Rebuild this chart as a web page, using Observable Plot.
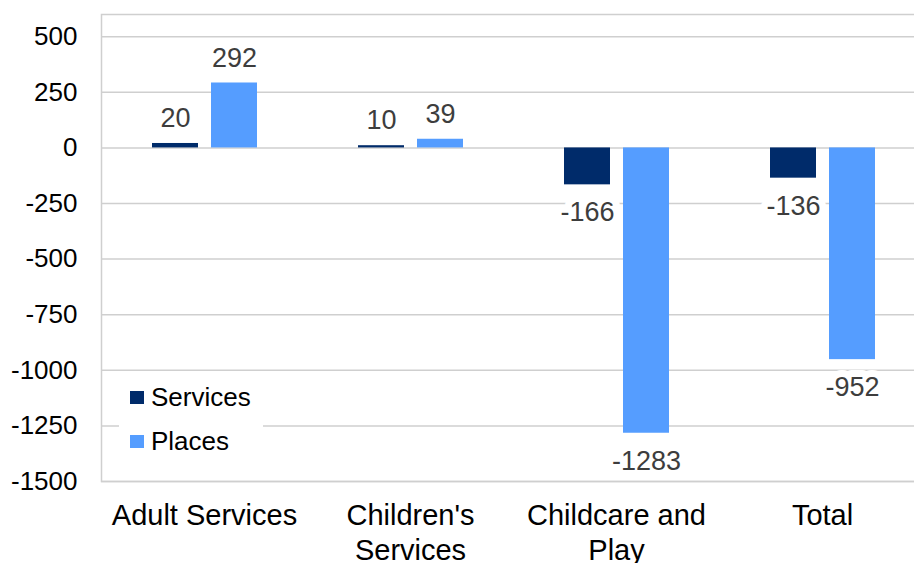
<!DOCTYPE html>
<html><head><meta charset="utf-8">
<script src="https://cdn.jsdelivr.net/npm/d3@7"></script>
<script src="https://cdn.jsdelivr.net/npm/@observablehq/plot@0.6"></script>
<style>
body{margin:0;background:#fff;overflow:hidden;font-family:"Liberation Sans",Arial,sans-serif}
#wrap{position:relative;width:914px;height:563px;overflow:hidden}
#legend{position:absolute;left:119px;top:378px;width:144px;height:80px;background:#fff}
.sw{position:absolute;left:11px;width:14px;height:13px}
.lt{position:absolute;left:32px;font-size:26px;color:#000;line-height:1;white-space:nowrap}
</style></head><body><div id="wrap"></div>
<script>
const categories = ["Adult Services", "Children's\nServices", "Childcare and\nPlay", "Total"];
const servicesValues = [20, 10, -166, -136];
const placesValues = [292, 39, -1283, -952];
const yTicks = [500, 250, 0, -250, -500, -750, -1000, -1250, -1500];
const seriesNames = ["Services", "Places"];
const seriesColors = ["#002b6a", "#559dff"];

const rows = [];
categories.forEach((c, i) => {
  rows.push({category: c, series: "Services", value: servicesValues[i]});
  rows.push({category: c, series: "Places", value: placesValues[i]});
});
const svc = rows.filter(d => d.series === "Services");
const plc = rows.filter(d => d.series === "Places");

const labelOpts = (data, dx, dy) => Plot.text(data, {
  x: "category", y: "value", text: d => String(d.value), dx, dy,
  fontSize: 27, fill: "#3d3d3d", stroke: "white", strokeWidth: 14, paintOrder: "stroke"
});

const chart = Plot.plot({
  width: 914, height: 563,
  marginLeft: 101, marginRight: -11, marginTop: 14, marginBottom: 82,
  style: {fontFamily: "Liberation Sans, Arial, sans-serif", background: "white"},
  x: {domain: categories, padding: 0},
  y: {domain: [-1500, 600]},
  marks: [
    Plot.ruleY(yTicks, {stroke: "#cfcfcf", strokeWidth: 1.5}),
    Plot.frame({stroke: "#cfcfcf", strokeWidth: 1.5}),
    labelOpts(svc.filter(d => d.value >= 0), -29, -25),
    labelOpts(svc.filter(d => d.value < 0), -29, 28),
    labelOpts(plc.filter(d => d.value >= 0), 30, -25),
    labelOpts(plc.filter(d => d.value < 0), 30, 28),
    Plot.barY(svc, {x: "category", y: "value", fill: seriesColors[0], insetLeft: 51, insetRight: 109}),
    Plot.barY(plc, {x: "category", y: "value", fill: seriesColors[1], insetLeft: 110, insetRight: 50}),
    Plot.axisY({ticks: yTicks, tickFormat: d => String(d), tickSize: 0, tickPadding: 24, fontSize: 26, fill: "#000", label: null}),
    Plot.axisX({tickSize: 0, tickPadding: 19, fontSize: 29, fill: "#000", lineHeight: 1.2, label: null})
  ]
});
const wrap = document.getElementById("wrap");
wrap.appendChild(chart);

const legend = document.createElement("div");
legend.id = "legend";
seriesNames.forEach((name, i) => {
  const sw = document.createElement("div");
  sw.className = "sw";
  sw.style.top = (13 + i * 44) + "px";
  sw.style.background = seriesColors[i];
  const t = document.createElement("div");
  t.className = "lt";
  t.style.top = (6 + i * 44) + "px";
  t.textContent = name;
  legend.appendChild(sw);
  legend.appendChild(t);
});
wrap.appendChild(legend);
</script></body></html>
